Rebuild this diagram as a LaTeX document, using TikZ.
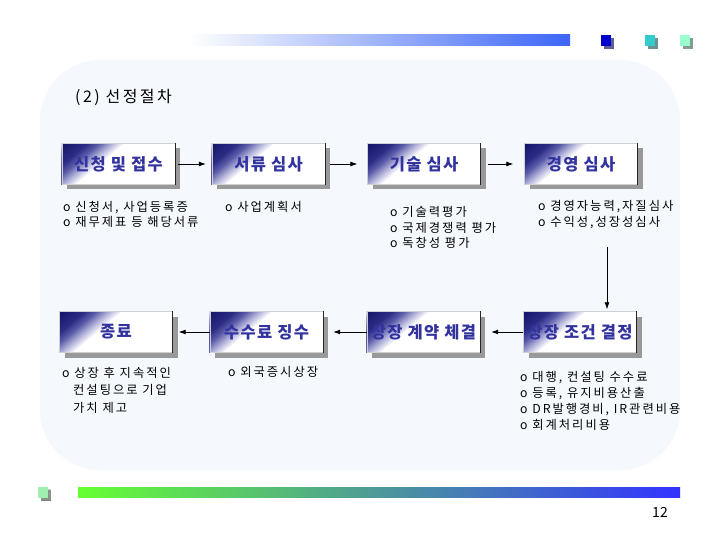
\documentclass[tikz,border=0pt]{standalone}
\usepackage{fontspec}
\setmainfont{Noto Sans CJK KR}
\newfontfamily\descfont[LetterSpace=16]{Noto Sans CJK KR}
\newfontfamily\boxfont[LetterSpace=8]{Noto Sans CJK KR}
\newfontfamily\titlefont[LetterSpace=15]{Noto Sans CJK KR}
\usetikzlibrary{arrows.meta,shadows,calc}
\definecolor{panelc}{HTML}{F5F9FE}
\definecolor{boxtext}{HTML}{3333A0}
\definecolor{bdark}{HTML}{141466}
\definecolor{bdark2}{HTML}{2C2C86}
\definecolor{bmid1}{HTML}{5C5CAA}
\definecolor{bmid}{HTML}{B0B0D8}
\definecolor{topbar}{HTML}{3D66F5}
\definecolor{sqblue}{HTML}{0000CC}
\definecolor{sqcyan}{HTML}{33CCCC}
\definecolor{sqmint}{HTML}{99FFCC}
\definecolor{sqgreen}{HTML}{A0EEB0}
\definecolor{bargreen}{HTML}{66FF33}
\definecolor{barblue}{HTML}{3333FF}
\tikzset{
  stepbox/.style={minimum width=113pt, minimum height=41pt, inner sep=0pt,
    fill=white,
    drop shadow={shadow xshift=5pt, shadow yshift=-5pt, fill=black!40, opacity=1, draw=none}},
  steptext/.style={inner sep=0pt, font=\boxfont\bfseries\fontsize{16.5}{18}\selectfont, text=boxtext},
  edgeline/.style={draw=black!85, line width=1pt},
  lightedge/.style={draw=black!18, line width=0.6pt},
  desc/.style={anchor=west, align=left, inner sep=0pt, font=\descfont\fontsize{12.3}{15.5}\selectfont},
  flow/.style={-{Latex[length=7pt,width=5pt]}, line width=0.8pt},
  sqr/.style={minimum width=10pt, minimum height=11pt, inner sep=0pt,
    drop shadow={shadow xshift=3pt, shadow yshift=-3pt, opacity=1}},
}
\begin{document}
\begin{tikzpicture}[x=1pt,y=-1pt]
\useasboundingbox (0,0) rectangle (720,540);
\fill[white] (0,0) rectangle (720,540);
% panel
\fill[panelc, rounded corners=60pt] (40,60) rectangle (680,470);
% top decorations
\shade[left color=white, right color=topbar] (190,35) rectangle (570,46);
\node[sqr, fill=sqblue, drop shadow={fill=sqblue!50!gray}] (s1) at (606,40.5) {};
\node[sqr, fill=sqcyan, drop shadow={fill=sqcyan!50!gray}] (s2) at (650,40.5) {};
\node[sqr, fill=sqmint, drop shadow={fill=sqmint!45!gray}] (s3) at (685,40.5) {};
% bottom decorations
\node[sqr, fill=sqgreen, drop shadow={fill=sqgreen!40!gray}] (s4) at (43,492) {};
\shade[left color=bargreen, right color=barblue] (78,487) rectangle (680,497);
\node[font=\fontsize{14}{16}\selectfont, inner sep=0pt] (pg) at (660,512) {12};
% title
\node[anchor=west, inner sep=0pt, font=\titlefont\fontsize{16}{18}\selectfont] (title) at (75,97) {(2) 선정절차};
% boxes
\node[stepbox] (b1) at (118.5,164) {};
\node[stepbox] (b2) at (268.5,164) {};
\node[stepbox] (b3) at (424,164) {};
\node[stepbox] (b4) at (581,164) {};
\node[stepbox] (b5) at (116,332) {};
\node[stepbox] (b6) at (266.5,332) {};
\node[stepbox] (b7) at (423.5,332) {};
\node[stepbox] (b8) at (580,332) {};
\foreach \b in {b1,b2,b3,b4,b5,b6,b7,b8}{
  \begin{scope}
    \clip (\b.south west) rectangle (\b.north east);
    \foreach \s/\col in {0/bdark, 2/bdark2!12!bdark, 4/bdark2!25!bdark, 6/bdark2!37!bdark,
        8/bdark2!50!bdark, 10/bdark2!62!bdark, 12/bdark2!75!bdark, 14/bdark2!87!bdark,
        16/bdark2, 18/bmid1!25!bdark2, 20/bmid1!50!bdark2, 22/bmid1!75!bdark2,
        24/bmid1, 26/bmid!25!bmid1, 28/bmid!50!bmid1, 30/bmid!75!bmid1,
        32/bmid, 34/white!25!bmid, 36/white!50!bmid, 38/white!75!bmid, 40/white}{
      \fill[\col] ($(\b.north west)+({\s*0.643+122.6},{\s*0.766-102.9})$)
        -- ++(-245.2,205.8) -- ++(128.6,153.2) -- ++(245.2,-205.8) -- cycle;
    }
  \end{scope}
  \draw[lightedge] (\b.south west) -- (\b.north west) -- (\b.north east);
  \draw[lightedge] (\b.south west) -- (\b.south east);
  \draw[edgeline] (\b.north east) -- (\b.south east);
}
\node[steptext] (t1) at (b1) {신청 및 접수};
\node[steptext] (t2) at (b2) {서류 심사};
\node[steptext] (t3) at (b3) {기술 심사};
\node[steptext] (t4) at (b4) {경영 심사};
\node[steptext] (t5) at (b5) {종료};
\node[steptext] (t6) at (b6) {수수료 징수};
\node[steptext] (t7) at (b7) {상장 계약 체결};
\node[steptext] (t8) at (b8) {상장 조건 결정};
% descriptions
\node[desc] (d1) at (63,214.5) {o 신청서, 사업등록증\\o 재무제표 등 해당서류};
\node[desc] (d2) at (225,207) {o 사업계획서};
\node[desc] (d3) at (390,227.5) {o 기술력평가\\o 국제경쟁력 평가\\o 독창성 평가};
\node[desc] (d4) at (538,214.5) {o 경영자능력,자질심사\\o 수익성,성장성심사};
\node[desc, font=\descfont\fontsize{12.3}{17.5}\selectfont] (d5) at (62,390) {o 상장 후 지속적인\\\hspace*{11pt}컨설팅으로 기업\\\hspace*{11pt}가치 제고};
\node[desc] (d6) at (228,372) {o 외국증시상장};
\node[desc, font=\descfont\fontsize{12.3}{16}\selectfont] (d8) at (520,401) {o 대행, 컨설팅 수수료\\o 등록, 유지비용산출\\o DR발행경비, IR관련비용\\o 회계처리비용};
% arrows
\draw[flow, shorten <=3pt, shorten >=6pt] (b1.east) -- (b2.west);
\draw[flow, shorten <=5pt, shorten >=10pt] (b2.east) -- (b3.west);
\draw[flow, shorten <=7pt, shorten >=11pt] (b3.east) -- (b4.west);
\coordinate (vstart) at (607,247);
\draw[flow, shorten >=2pt] (vstart) -- (vstart |- b8.north);
\draw[flow, shorten >=11pt] (b8.west) -- (b7.east);
\draw[flow, shorten >=10pt] (b7.west) -- (b6.east);
\draw[flow, shorten >=6pt] (b6.west) -- (b5.east);
\end{tikzpicture}
\end{document}
